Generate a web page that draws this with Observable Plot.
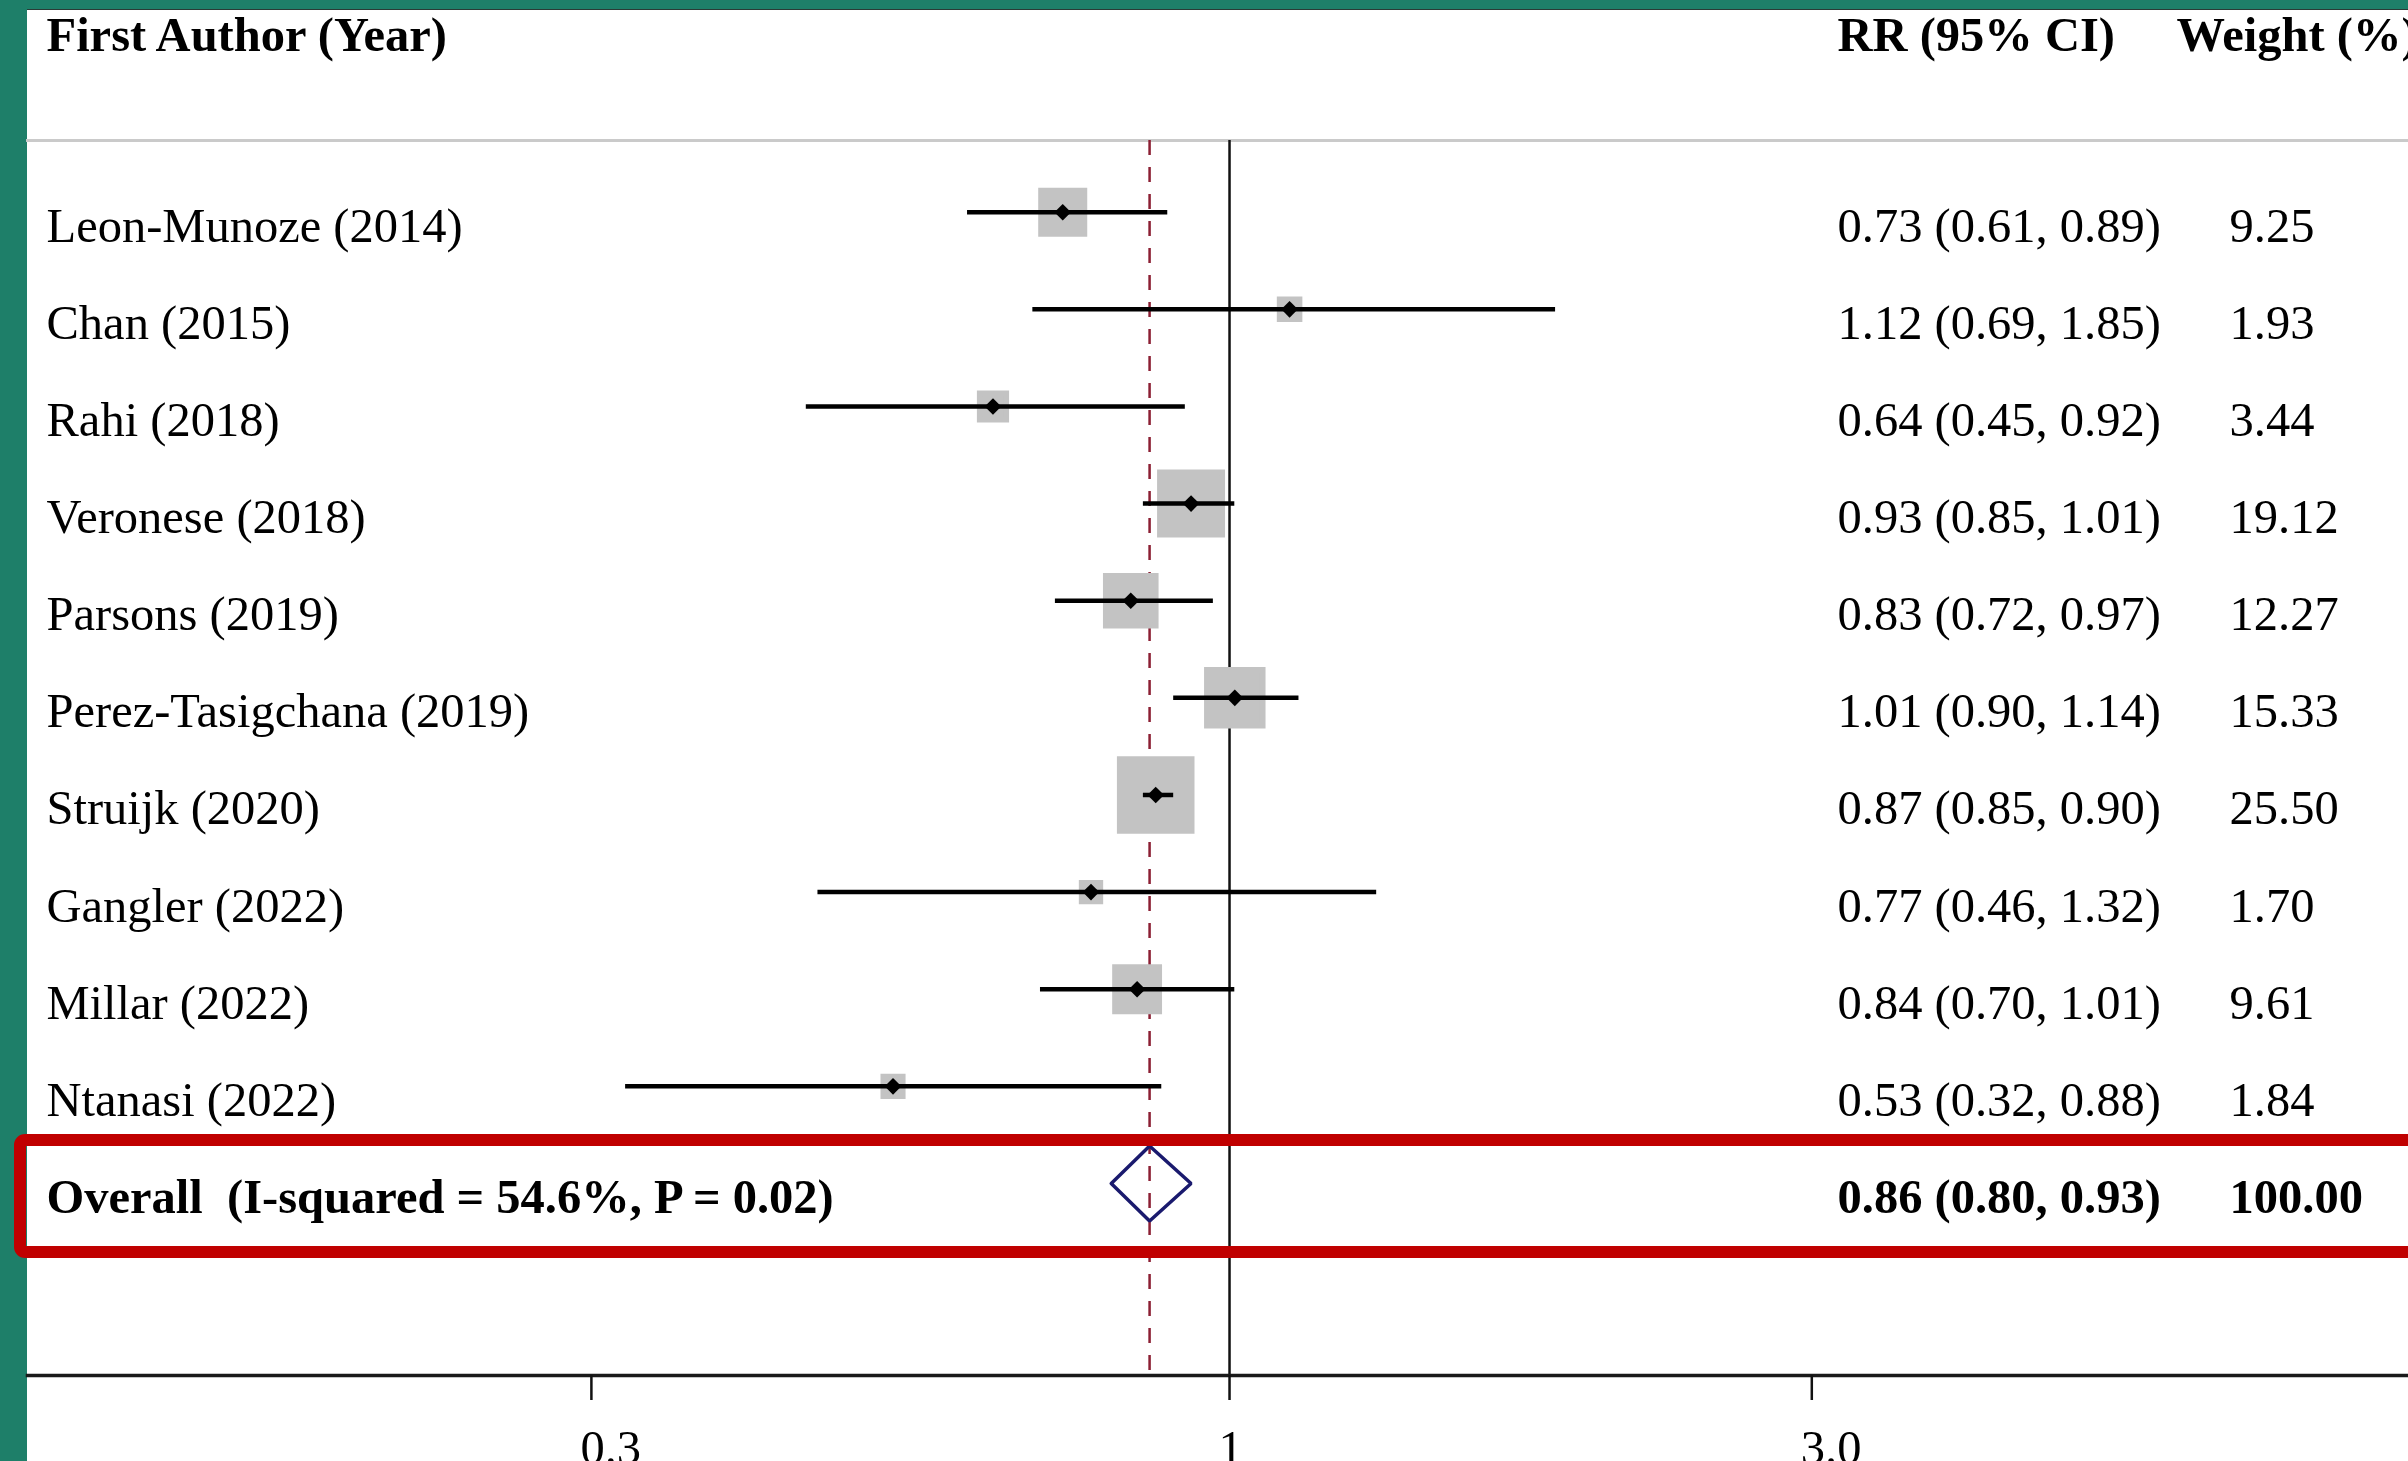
<!DOCTYPE html>
<html>
<head>
<meta charset="utf-8">
<script src="https://cdn.jsdelivr.net/npm/d3@7"></script>
<script src="https://cdn.jsdelivr.net/npm/@observablehq/plot@0.6"></script>
<style>
html, body { margin: 0; padding: 0; background: #1e7f69; width: 2408px; height: 1461px; overflow: hidden; }
#panel { position: absolute; left: 27px; top: 9px; width: 2381px; height: 1452px; background: #ffffff; border-top: 1px solid #2b3a36; }
</style>
</head>
<body>
<div id="panel"></div>
<script>
// ---- data ----
const authors = ["Leon-Munoze (2014)", "Chan (2015)", "Rahi (2018)", "Veronese (2018)", "Parsons (2019)",
  "Perez-Tasigchana (2019)", "Struijk (2020)", "Gangler (2022)", "Millar (2022)", "Ntanasi (2022)"];
const rr     = [0.73, 1.12, 0.64, 0.93, 0.83, 1.01, 0.87, 0.77, 0.84, 0.53];
const lower  = [0.61, 0.69, 0.45, 0.85, 0.72, 0.90, 0.85, 0.46, 0.70, 0.32];
const upper  = [0.89, 1.85, 0.92, 1.01, 0.97, 1.14, 0.90, 1.32, 1.01, 0.88];
const weights = [9.25, 1.93, 3.44, 19.12, 12.27, 15.33, 25.50, 1.70, 9.61, 1.84];
const overallLabel = "Overall  (I-squared = 54.6%, P = 0.02)";
const overallRR = 0.86, overallLower = 0.80, overallUpper = 0.93, overallWeight = 100.00;
const headers = ["First Author (Year)", "RR (95% CI)", "Weight (%)"];
const xTicks = [0.3, 1, 3];
const xTickLabels = ["0.3", "1", "3.0"];

// ---- tables ----
const fmt = v => v.toFixed(2);
const studies = authors.map((a, i) => ({
  author: a, row: i + 1, rr: rr[i], lower: lower[i], upper: upper[i], weight: weights[i],
  ci: `${fmt(rr[i])} (${fmt(lower[i])}, ${fmt(upper[i])})`, w: fmt(weights[i])
}));
const overall = [{
  author: overallLabel, row: authors.length + 1, rr: overallRR, lower: overallLower, upper: overallUpper,
  ci: `${fmt(overallRR)} (${fmt(overallLower)}, ${fmt(overallUpper)})`, w: fmt(overallWeight)
}];
const halfH = 0.386; // diamond half-height in row units
const o = overall[0];
const diamond = [
  {x: o.lower, y: o.row}, {x: o.rr, y: o.row - halfH}, {x: o.upper, y: o.row},
  {x: o.rr, y: o.row + halfH}, {x: o.lower, y: o.row}
];

const FONT = "'Liberation Serif', 'Times New Roman', Times, serif";
const FS = 48.5;
const textCommon = {frameAnchor: "left", textAnchor: "start", lineAnchor: "bottom", fontSize: FS, fontFamily: FONT, fill: "#000", dy: 29.5};
const headerCommon = {frameAnchor: "top-left", textAnchor: "start", lineAnchor: "bottom", fontSize: FS, fontFamily: FONT,
  fontWeight: "bold", fill: "#000", dy: -90, ariaLabel: "header"};
const COL = {label: 19, ci: 1810, w: 2202, wHead: 2149};

const svg = Plot.plot({
  width: 2381,
  height: 1451,
  marginLeft: 0,
  marginRight: 0,
  marginTop: 130,
  marginBottom: 86,
  style: {overflow: "visible", background: "transparent", color: "#000", maxWidth: "none", fontFamily: FONT},
  x: {type: "log", domain: [0.3, 3], range: [563.9, 1784.3]},
  y: {domain: [1, 11], range: [201.7, 1173], axis: null},
  r: {type: "sqrt", domain: [0, 25.5], range: [0, 40.5]},
  marks: [
    Plot.frame({anchor: "top", stroke: "#cacaca", strokeWidth: 3}),
    Plot.ruleX([1], {stroke: "#111", strokeWidth: 2.5}),
    Plot.ruleX([overallRR], {stroke: "#8b1f33", strokeWidth: 2.5, strokeDasharray: "15,12"}),
    // weight squares
    Plot.dot(studies, {x: "rr", y: "row", r: "weight", symbol: "square", fill: "#c3c3c3", stroke: "#c3c3c3", strokeWidth: 5.8}),
    // confidence intervals
    Plot.ruleY(studies, {y: "row", x1: "lower", x2: "upper", stroke: "#000", strokeWidth: 4.5}),
    // point estimates
    Plot.dot(studies, {x: "rr", y: "row", r: 7.5, symbol: "diamond2", fill: "#000", stroke: null}),
    // overall diamond
    Plot.line(diamond, {x: "x", y: "y", stroke: "#1a1a6e", strokeWidth: 3.5, strokeLinejoin: "miter"}),
    // axis line, ticks and labels
    Plot.frame({anchor: "bottom", stroke: "#1a1a1a", strokeWidth: 3.5}),
    Plot.axisX(xTicks, {anchor: "bottom", tickFormat: () => "", tickSize: 25, strokeWidth: 2.5, stroke: "#111"}),
    Plot.axisX(xTicks, {anchor: "bottom", tickFormat: d => xTickLabels[xTicks.indexOf(d)], tickSize: 0, tickPadding: 54.4,
      fontSize: FS, fontFamily: FONT, textAnchor: "start", dx: -11, fill: "#000"}),
    // study text columns
    Plot.text(studies, {...textCommon, y: "row", text: "author", dx: COL.label}),
    Plot.text(studies, {...textCommon, y: "row", text: "ci", dx: COL.ci}),
    Plot.text(studies, {...textCommon, y: "row", text: "w", dx: COL.w}),
    // overall text
    Plot.text(overall, {...textCommon, y: "row", text: "author", dx: COL.label, fontWeight: "bold"}),
    Plot.text(overall, {...textCommon, y: "row", text: "ci", dx: COL.ci, fontWeight: "bold"}),
    Plot.text(overall, {...textCommon, y: "row", text: "w", dx: COL.w, fontWeight: "bold"}),
    // headers
    Plot.text([headers[0]], {...headerCommon, text: d => d, dx: COL.label}),
    Plot.text([headers[1]], {...headerCommon, text: d => d, dx: COL.ci}),
    Plot.text([headers[2]], {...headerCommon, text: d => d, dx: COL.wHead}),
    // highlight box around overall row
    Plot.rect(overall, {y1: d => d.row - 0.5, y2: d => d.row + 0.5, insetTop: 5.6, insetBottom: -20.4,
      insetLeft: -7, insetRight: -40, fill: "none", stroke: "#c00000", strokeWidth: 12, rx: 5})
  ]
});
// header type in the reference is vertically compressed
d3.select(svg).selectAll('g[aria-label="header"] text').each(function() {
  const t = this.getAttribute("transform") || "";
  this.setAttribute("transform", `${t} scale(1,0.8)`);
});
document.getElementById("panel").appendChild(svg);
</script>
</body>
</html>
